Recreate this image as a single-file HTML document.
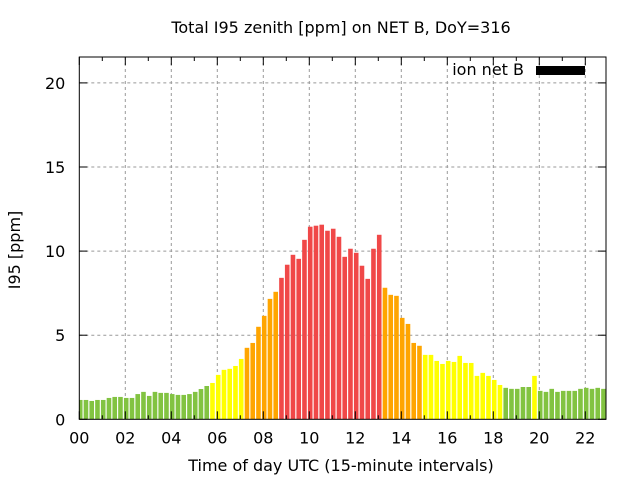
<!DOCTYPE html>
<html><head><meta charset="utf-8"><style>
body{margin:0;background:#fff;}
svg text{font-family:"DejaVu Sans","Liberation Sans",sans-serif;}
</style></head><body>
<svg id="chart" width="640" height="480" xmlns="http://www.w3.org/2000/svg">
<rect width="640" height="480" fill="#fff"/>
<text x="341" y="33" font-size="16" text-anchor="middle">Total I95 zenith [ppm] on NET B, DoY=316</text>
<text transform="translate(20,250) rotate(-90)" font-size="16" text-anchor="middle">I95 [ppm]</text>
<text x="341" y="471" font-size="16" text-anchor="middle">Time of day UTC (15-minute intervals)</text>
<g id="grid"></g>
<g id="bars"></g>
<g id="axes"></g>
<g>
<text x="524" y="75" font-size="16" text-anchor="end">ion net B</text>
<rect x="536" y="66" width="49" height="9" fill="#000"/>
</g>
</svg>
<script>
const values = [1.15,1.15,1.09,1.15,1.15,1.27,1.33,1.33,1.27,1.27,1.5,1.63,1.39,1.63,1.57,1.57,1.5,1.45,1.45,1.5,1.63,1.8,1.98,
2.16,2.64,2.94,3.0,3.17,3.59,4.25,4.54,5.5,6.15,7.16,7.58,
8.41,9.19,9.78,9.54,10.67,11.45,11.51,11.57,11.21,11.33,10.85,9.66,10.14,9.9,9.13,8.35,10.14,10.97,
7.82,7.4,7.34,6.03,5.67,4.54,4.37,3.83,3.83,3.47,3.29,3.47,3.41,3.77,3.35,3.35,2.58,2.76,2.58,2.34,2.04,
1.87,1.81,1.81,1.92,1.92,2.58,1.69,1.63,1.81,1.63,1.69,1.69,1.69,1.81,1.87,1.81,1.87,1.81];
const yTicks = [0,5,10,15,20];
const xTickHours = [0,2,4,6,8,10,12,14,16,18,20,22];
const xTickLabels = ["00","02","04","06","08","10","12","14","16","18","20","22"];
const xMinorHours = [1,3,5,7,9,11,13,15,17,19,21];
const L=79.3,R=606,T=57,B=419.3,XMAX=(606-79.3)/23,YMAX=(419.3-57)/16.82;
const NS="http://www.w3.org/2000/svg";
function xs(h){return L+h*(R-L)/XMAX;}
function ys(v){return B-v*(B-T)/YMAX;}
function mk(tag,attrs,parent){const e=document.createElementNS(NS,tag);for(const k in attrs)e.setAttribute(k,attrs[k]);parent.appendChild(e);return e;}
function col(v){return v<2?"#82c341":v<4?"#ffff00":v<8?"#ffa500":"#f04848";}
const grid=document.getElementById('grid'),bars=document.getElementById('bars'),axes=document.getElementById('axes');
yTicks.forEach(t=>{if(t>0){const g=mk('line',{x1:L,x2:R,y1:ys(t),y2:ys(t),stroke:'#999','stroke-dasharray':'3,3'},grid);

}
const tl=mk('text',{x:L-14,y:ys(t)+6,'font-size':16,'text-anchor':'end'},axes);tl.textContent=t;


mk('line',{x1:L,x2:L+8,y1:ys(t),y2:ys(t),stroke:'#000'},axes);
mk('line',{x1:R,x2:R-8,y1:ys(t),y2:ys(t),stroke:'#000'},axes);});
xTickHours.forEach((h,i)=>{if(h>0){const g=mk('line',{x1:xs(h),x2:xs(h),y1:T,y2:B,stroke:'#999','stroke-dasharray':'3,3'},grid);

}
const tl=mk('text',{x:xs(h),y:B+24,'font-size':16,'text-anchor':'middle'},axes);tl.textContent=xTickLabels[i];


mk('line',{x1:xs(h),x2:xs(h),y1:B,y2:B-8,stroke:'#000'},axes);
mk('line',{x1:xs(h),x2:xs(h),y1:T,y2:T+8,stroke:'#000'},axes);});
xMinorHours.forEach(h=>{mk('line',{x1:xs(h),x2:xs(h),y1:B,y2:B-4,stroke:'#000'},axes);
mk('line',{x1:xs(h),x2:xs(h),y1:T,y2:T+4,stroke:'#000'},axes);});
values.forEach((v,i)=>{const c=i*0.25+0.04;let x0=xs(c-0.1),x1=xs(c+0.1);x0=Math.max(x0,L);x1=Math.min(x1,R);
const r=mk('rect',{x:x0,y:ys(v),width:x1-x0,height:B-ys(v),fill:col(v)},bars);

});
const fr=mk('rect',{x:L,y:T,width:R-L,height:B-T,fill:'none',stroke:'#000','stroke-width':1},axes);


</script>
</body></html>
